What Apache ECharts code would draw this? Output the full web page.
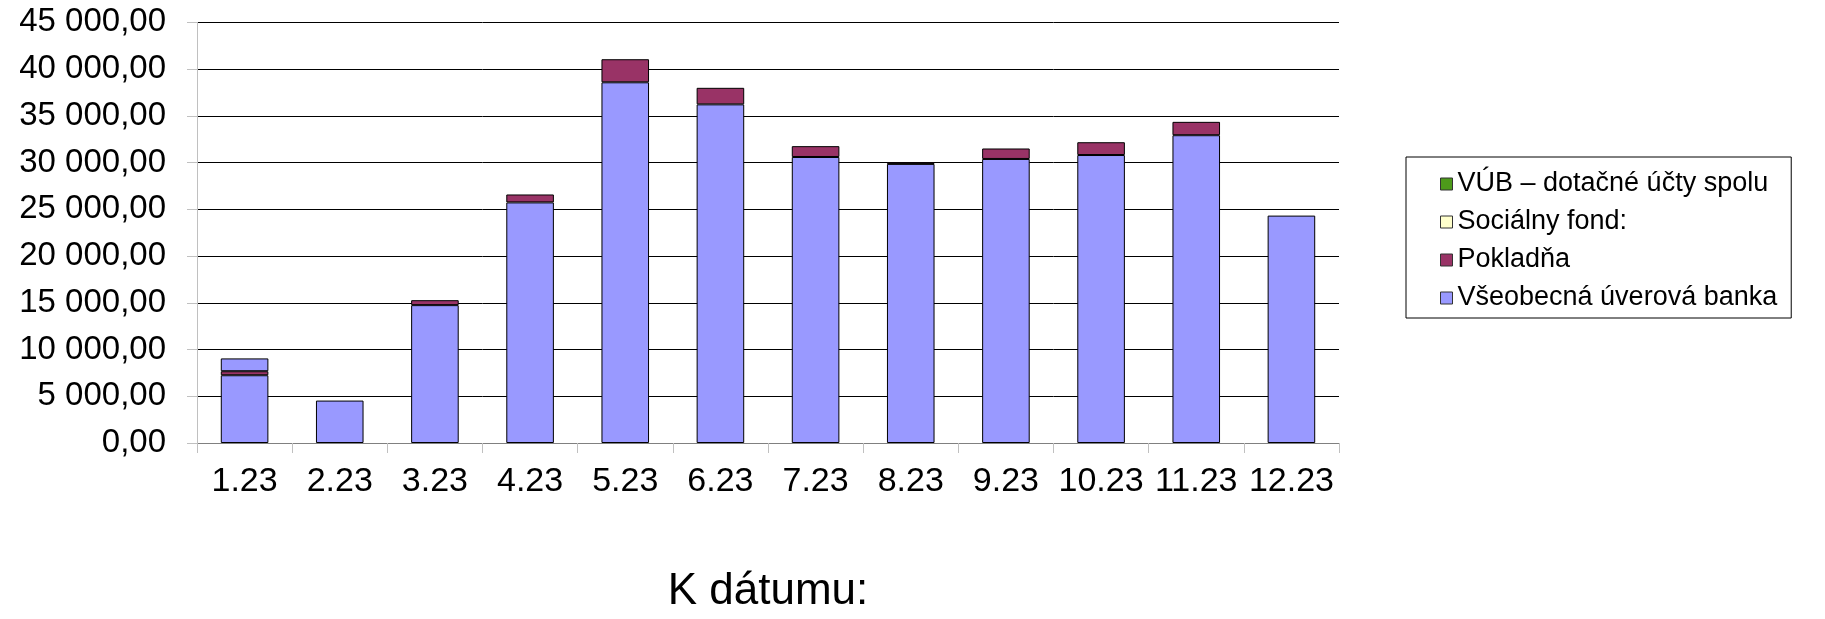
<!DOCTYPE html>
<html>
<head>
<meta charset="utf-8">
<script src="https://cdn.jsdelivr.net/npm/echarts@6/dist/echarts.min.js"></script>
<style>
html,body{margin:0;padding:0;background:#fff;}
#c{width:1825px;height:619px;}
</style>
</head>
<body>
<div id="c"></div>
<script>
const categories = ['1.23','2.23','3.23','4.23','5.23','6.23','7.23','8.23','9.23','10.23','11.23','12.23'];
const vseobecnaBanka = [7250, 4540, 14750, 25740, 38590, 36230, 30600, 29860, 30390, 30810, 32930, 24330];
const pokladna = [430, 0, 530, 850, 2470, 1770, 1160, 170, 1120, 1370, 1430, 0];
const socialnyFond = [0, 0, 0, 0, 0, 0, 0, 0, 0, 0, 0, 0];
const vubDotacne = [1370, 0, 0, 0, 0, 0, 0, 0, 0, 0, 0, 0];
const yMin = 0, yMax = 45000, yStep = 5000;

function fmt(v){
  const s = v.toFixed(2).split('.');
  return s[0].replace(/\B(?=(\d{3})+(?!\d))/g, ' ') + ',' + s[1];
}
function nz(arr){ return arr.map(v => v === 0 ? '-' : v); }

const FONT = 'Liberation Sans, Arial, sans-serif';
const border = {borderColor:'#000', borderWidth:1};
const chart = echarts.init(document.getElementById('c'), null, {renderer:'canvas'});
const vubData = nz(vubDotacne).map((v,i) => i === 0 && v !== '-' ? {value:v, itemStyle:{color:'#9999FF'}} : v);

chart.setOption({
  animation:false,
  grid:{left:197, right:486, top:22.4, bottom:170, containLabel:false},
  legend:{
    orient:'vertical', left:1406, top:157,
    data:['VÚB – dotačné účty spolu','Sociálny fond:','Pokladňa','Všeobecná úverová banka'],
    itemWidth:12, itemHeight:12, itemGap:10, icon:'rect',
    borderColor:'#000', borderWidth:1, padding:[13,14,6,34],
    itemStyle:{borderColor:'#333', borderWidth:1},
    textStyle:{fontFamily:FONT, fontSize:27, lineHeight:28, color:'#000', padding:[0,0,0,0]}
  },
  xAxis:{
    type:'category', data:categories,
    name:'K dátumu:', nameLocation:'middle', nameGap:127,
    nameTextStyle:{fontFamily:FONT, fontSize:44, color:'#000'},
    axisLine:{show:true, lineStyle:{color:'#808080', width:1}},
    axisTick:{show:true, length:10, lineStyle:{color:'#c0c0c0'}},
    axisLabel:{interval:0, margin:22, fontFamily:FONT, fontSize:34, color:'#000'},
    splitLine:{show:false}
  },
  yAxis:{
    type:'value', min:yMin, max:yMax, interval:yStep,
    axisLine:{show:true, lineStyle:{color:'#c0c0c0'}},
    axisTick:{show:true, length:10, lineStyle:{color:'#c0c0c0'}},
    axisLabel:{margin:31, formatter:fmt, fontFamily:FONT, fontSize:33, color:'#000'},
    splitLine:{show:true, lineStyle:{color:['#808080','#000','#000','#000','#000','#000','#000','#000','#000','#000'], width:1}}
  },
  series:[
    {name:'Všeobecná úverová banka', type:'bar', stack:'s', barWidth:'50%', data:nz(vseobecnaBanka), itemStyle:Object.assign({color:'#9999FF'}, border)},
    {name:'Pokladňa', type:'bar', stack:'s', data:nz(pokladna), itemStyle:Object.assign({color:'#993366'}, border)},
    {name:'Sociálny fond:', type:'bar', stack:'s', data:nz(socialnyFond), itemStyle:Object.assign({color:'#FFFFCC'}, border)},
    {name:'VÚB – dotačné účty spolu', type:'bar', stack:'s', data:vubData, itemStyle:Object.assign({color:'#4D9A1A'}, border)}
  ]
});
</script>
</body>
</html>
